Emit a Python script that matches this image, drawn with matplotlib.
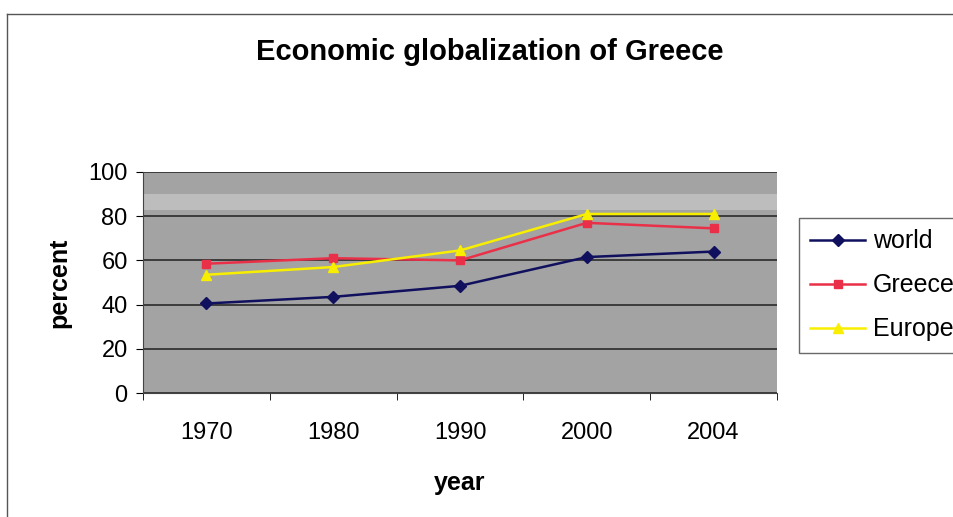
import matplotlib.pyplot as plt
from matplotlib.lines import Line2D

years = ["1970", "1980", "1990", "2000", "2004"]
world = [40.5, 43.5, 48.5, 61.5, 64]
greece = [58.5, 61, 60, 77, 74.5]
europe = [53.5, 57, 64.5, 81, 81]

plt.rcParams["font.family"] = ["Liberation Sans", "DejaVu Sans"]

fig = plt.figure(figsize=(9.54, 5.17), dpi=100)
ax = fig.add_axes([143 / 954, 1 - 393 / 517, 634 / 954, 221 / 517])
ax.set_facecolor("#a3a3a3")

# lighter band in the scanned background near the top
ax.axhspan(83, 90, color="#bdbdbd", lw=0, zorder=0)

x = list(range(len(years)))
ax.plot(x, world, color="#10105e", marker="D", ms=6, lw=1.8, label="world", zorder=3)
ax.plot(x, greece, color="#ea3048", marker="s", ms=6, lw=1.8, label="Greece", zorder=3)
ax.plot(x, europe, color="#f8ee00", marker="^", ms=7, lw=1.8, label="Europe", zorder=4)

ax.set_xlim(-0.5, len(years) - 0.5)
ax.set_ylim(0, 100)
ax.set_yticks([0, 20, 40, 60, 80, 100])
ax.set_xticks(x)
ax.set_xticklabels(years)
ax.set_xticks([i - 0.5 for i in range(len(years) + 1)], minor=True)
ax.tick_params(axis="x", which="major", length=0, pad=21, labelsize=17)
ax.tick_params(axis="x", which="minor", length=5, direction="out")
ax.tick_params(axis="y", length=5, direction="out", labelsize=17, pad=6)
ax.yaxis.grid(True, color="#2a2a2a", lw=1.2)
ax.set_axisbelow(True)
for s in ["top", "right"]:
    ax.spines[s].set_visible(False)
ax.spines["left"].set_color("#444444")
ax.spines["bottom"].set_color("#444444")

ax.set_ylabel("percent", fontsize=18, fontweight="bold", labelpad=12)
ax.set_xlabel("year", fontsize=18, fontweight="bold", labelpad=19)

fig.text(490 / 954, 1 - 52 / 517, "Economic globalization of Greece",
         ha="center", va="center", fontsize=21, fontweight="bold")

# outer chart frame
fig.add_artist(Line2D([7 / 954, 7 / 954], [0, 1 - 14 / 517], color="#555555", lw=1))
fig.add_artist(Line2D([7 / 954, 1], [1 - 14 / 517, 1 - 14 / 517], color="#555555", lw=1))

leg = fig.legend(loc="upper left", bbox_to_anchor=(799 / 954, 1 - 218 / 517),
                 fontsize=18, frameon=True, fancybox=False, edgecolor="#444444",
                 borderpad=0.45, labelspacing=0.8, handlelength=2.2, handletextpad=0.3,
                 borderaxespad=0)
leg.get_frame().set_linewidth(1.0)

fig.savefig("out.png", dpi=100)
